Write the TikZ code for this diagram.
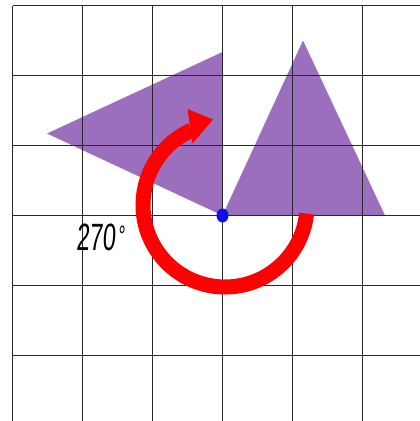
\documentclass[tikz,border=0pt]{standalone}
\usepackage{fontspec}
\newfontfamily\labelfont{Liberation Sans}
\definecolor{tri}{RGB}{155,111,190}
\definecolor{gridc}{RGB}{40,40,40}
\definecolor{arrowred}{RGB}{255,0,0}
\definecolor{dotblue}{RGB}{15,15,225}
\begin{document}
\begin{tikzpicture}[x=1pt,y=1pt,
  gridline/.style={draw=gridc,line width=1.3pt},
  trishape/.style={fill=tri},
  rotarc/.style={draw=arrowred,line width=15pt},
  rothead/.style={fill=arrowred}]
\useasboundingbox (0,0) rectangle (420,-421);
\fill[white] (0,0) rectangle (420,-421);
% triangles
\fill[trishape] (222.5,-215.5) -- (303,-40.5) -- (385,-215.5) -- cycle;
\fill[trishape] (222.5,-215.5) -- (47,-133.5) -- (222.5,-52) -- cycle;
% grid
\foreach \i in {0,...,5} {
  \draw[gridline] ({12.5+70*\i},-5.5) -- ({12.5+70*\i},-421);
  \draw[gridline] (12.5,{-5.5-70*\i}) -- (420,{-5.5-70*\i});
}
% rotation arrow
\coordinate (c) at (225,-205);
\draw[rotarc] ([shift={(-6:82)}]c) arc[start angle=-6,end angle=-246,radius=82];
\fill[rothead] (187.5,-109) -- (213,-119.5) -- (192.5,-143.5) -- cycle;
% centre of rotation
\fill[dotblue] (222.5,-215.5) ellipse[x radius=6,y radius=7];
% label
\node[anchor=base west,inner sep=0pt,xscale=0.62,xslant=0.12,font=\labelfont\fontsize{38}{38}\selectfont] (lbl) at (76,-250) {270\kern3pt\raisebox{5pt}{\fontsize{28}{28}\selectfont °}};
\end{tikzpicture}
\end{document}
